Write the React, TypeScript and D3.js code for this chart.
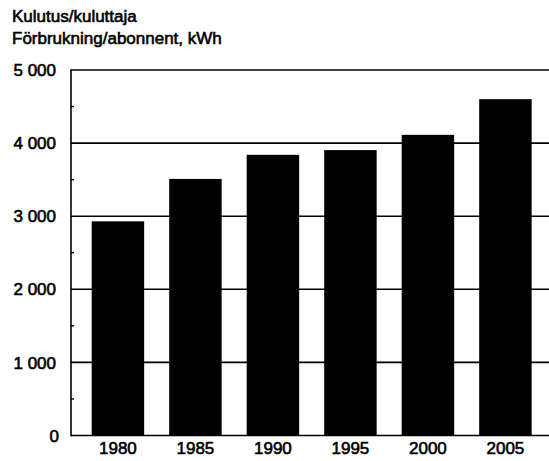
import React from "react";
import * as d3 from "d3";

const years = ["1980", "1985", "1990", "1995", "2000", "2005"];
const consumption = [2930, 3510, 3840, 3904, 4113, 4601];
const yTicks = [0, 1000, 2000, 3000, 4000, 5000];
const minorTicks = [500, 1500, 2500, 3500, 4500];
const titleLines = ["Kulutus/kuluttaja", "Förbrukning/abonnent, kWh"];

const W = 549;
const H = 461;
const left = 71;
const right = 549;
const top = 70;
const bottom = 435.5;
const font = "'Liberation Sans', Arial, sans-serif";
const textStroke = 0.6;

const fmt = (v: number) => (v >= 1000 ? `${Math.floor(v / 1000)} ${String(v % 1000).padStart(3, "0")}` : String(v));

export default function App() {
  const x = d3
    .scaleBand<string>()
    .domain(years)
    .range([left, right])
    .paddingInner(0.323)
    .paddingOuter(0.2454)
    .align(0.544);
  const y = d3.scaleLinear().domain([0, 5000]).range([bottom, top]);

  return (
    <svg
      width={W}
      height={H}
      style={{ position: "absolute", left: 0, top: 0, background: "#fff" }}
      fontFamily={font}
    >
      <rect x={0} y={0} width={W} height={H} fill="#fff" />
      {titleLines.map((t, i) => (
        <text key={t} x={12} y={21.5 + i * 22.5} fontSize={17} fill="#000" stroke="#000" strokeWidth={textStroke}>
          {t}
        </text>
      ))}
      {yTicks.map((v) => (
        <line key={"g" + v} x1={left} x2={right} y1={y(v)} y2={y(v)} stroke="#000" strokeWidth={1.6} />
      ))}
      {minorTicks.map((v) => (
        <line key={"m" + v} x1={left} x2={left + 3} y1={y(v)} y2={y(v)} stroke="#000" strokeWidth={1.4} />
      ))}
      {years.map((yr, i) => (
        <rect
          key={yr}
          x={x(yr)}
          y={y(consumption[i])}
          width={x.bandwidth()}
          height={y(0) - y(consumption[i])}
          fill="#000"
        />
      ))}
      <line x1={left} x2={left} y1={top - 0.8} y2={bottom + 0.8} stroke="#000" strokeWidth={1.6} />
      {yTicks.map((v) => (
        <text
          key={"t" + v}
          x={v === 0 ? 59 : 56}
          y={y(v)}
          dy="0.36em"
          textAnchor="end"
          fontSize={17}
          fill="#000"
          stroke="#000"
          strokeWidth={textStroke}
        >
          {fmt(v)}
        </text>
      ))}
      {years.map((yr) => (
        <text
          key={"x" + yr}
          x={(x(yr) as number) + x.bandwidth() / 2}
          y={454}
          textAnchor="middle"
          fontSize={17}
          fill="#000"
          stroke="#000"
          strokeWidth={textStroke}
        >
          {yr}
        </text>
      ))}
    </svg>
  );
}
